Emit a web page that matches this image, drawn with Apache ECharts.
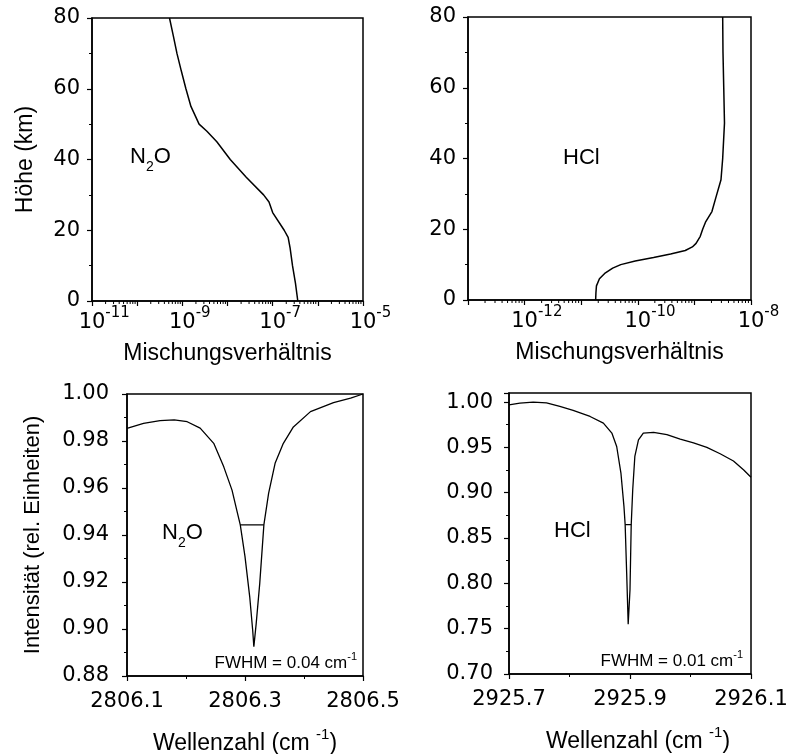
<!DOCTYPE html>
<html>
<head>
<meta charset="utf-8">
<script src="https://cdn.jsdelivr.net/npm/echarts@6/dist/echarts.min.js"></script>
<style>
  html, body { margin: 0; padding: 0; background: #fff; }
  #main { width: 796px; height: 754px; }
</style>
</head>
<body>
<div id="main"></div>
<script>
// Höhenprofile (km) und Mischungsverhältnisse
var n2oHeight = [0, 5, 10, 15, 18, 20, 25, 28, 30, 35, 40, 45, 48, 50, 55, 60, 65, 70, 75, 80];
var n2oMix = [3.6e-7, 3.2e-7, 2.75e-7, 2.43e-7, 2.2e-7, 1.8e-7, 1.0e-7, 8.3e-8, 6.3e-8, 2.6e-8,
    1.15e-8, 5.8e-9, 3.5e-9, 2.35e-9, 1.55e-9, 1.2e-9, 9.5e-10, 7.6e-10, 6.3e-10, 5.2e-10];

var hclHeight = [0, 2, 4, 6, 7.5, 9, 10, 11, 12, 13, 14, 15, 16, 18, 20, 22, 25, 29, 34, 40, 50, 60, 70, 80];
var hclMix = [1.8e-11, 1.82e-11, 1.86e-11, 2.1e-11, 2.6e-11, 3.6e-11, 5.0e-11, 9.0e-11, 1.9e-10, 3.8e-10,
    6.9e-10, 9.2e-10, 1.07e-9, 1.27e-9, 1.4e-9, 1.57e-9, 2.04e-9, 2.4e-9, 2.95e-9, 3.16e-9,
    3.4e-9, 3.3e-9, 3.2e-9, 3.16e-9];

// Spektren
var n2oWave = [2806.100, 2806.128, 2806.156, 2806.180, 2806.202, 2806.224, 2806.247, 2806.264, 2806.278,
    2806.286, 2806.292, 2806.300, 2806.308, 2806.313, 2806.315, 2806.319, 2806.325, 2806.332, 2806.340,
    2806.351, 2806.365, 2806.382, 2806.411, 2806.450, 2806.479, 2806.500];
var n2oInt = [0.9854, 0.9875, 0.9887, 0.9890, 0.9882, 0.9855, 0.9790, 0.9690, 0.9591,
    0.9506, 0.9443, 0.9308, 0.9137, 0.8996, 0.8925, 0.9024, 0.9194, 0.9443, 0.9577,
    0.9705, 0.9790, 0.9860, 0.9925, 0.9963, 0.9982, 1.0000];
var n2oFwhmWave = [2806.292, 2806.332];
var n2oFwhmInt = [0.9443, 0.9443];

var hclWave = [2925.700, 2925.718, 2925.740, 2925.762, 2925.784, 2925.806, 2925.834, 2925.856, 2925.870,
    2925.878, 2925.885, 2925.890, 2925.892, 2925.8945, 2925.897, 2925.900, 2925.902, 2925.9045,
    2925.908, 2925.914, 2925.922, 2925.939, 2925.961, 2925.983, 2926.005, 2926.027, 2926.049,
    2926.071, 2926.088, 2926.100];
var hclInt = [0.9970, 0.9989, 1.0000, 0.9990, 0.9952, 0.9908, 0.9841, 0.9768, 0.9658,
    0.9510, 0.9217, 0.8849, 0.8647, 0.8114, 0.7550, 0.7930, 0.8647, 0.9033,
    0.9400, 0.9584, 0.9658, 0.9665, 0.9640, 0.9590, 0.9550, 0.9500, 0.9430,
    0.9350, 0.9250, 0.9170];
var hclFwhmWave = [2925.892, 2925.902];
var hclFwhmInt = [0.8647, 0.8647];

// Zwischenstriche der log-Achsen (Mantissen)
var logMantissa = [2, 3, 4, 5, 6, 7, 8, 9];

function zip(xs, ys) {
    var out = [];
    for (var i = 0; i < xs.length; i++) out.push([xs[i], ys[i]]);
    return out;
}

function minorLogTicks(eFrom, eTo) {
    var out = [];
    for (var e = eFrom; e < eTo; e++) {
        logMantissa.forEach(function (m) { out.push([m * Math.pow(10, e), 0]); });
    }
    return out;
}

var NUM_FONT = 'DejaVu Sans';
var TXT_FONT = 'Liberation Sans';

var tickLabel = { color: '#000', fontFamily: NUM_FONT, fontSize: 21 };
var axisLine = { show: true, lineStyle: { color: '#000', width: 1.5 } };
var axisTick = { show: true, length: 5, lineStyle: { color: '#000', width: 1.2 } };
var minorTick = { show: true, splitNumber: 2, length: 3, lineStyle: { color: '#000', width: 1 } };
var nameStyle = {
    color: '#000', fontFamily: TXT_FONT, fontSize: 23,
    rich: {
        b: { fontFamily: TXT_FONT, fontSize: 23, lineHeight: 28, verticalAlign: 'bottom', color: '#000' },
        s: { fontFamily: TXT_FONT, fontSize: 15, lineHeight: 15, verticalAlign: 'top', color: '#000' }
    }
};

function logLabel(parity) {
    return function (v) {
        var e = Math.round(Math.log10(v));
        if (Math.abs(e % 2) !== parity) return '';
        return '{p|' + e + '}{b|10}{s|' + e + '}';
    };
}
var logRich = {
    b: { fontFamily: NUM_FONT, fontSize: 21, lineHeight: 27, verticalAlign: 'bottom', color: '#000' },
    s: { fontFamily: NUM_FONT, fontSize: 15, lineHeight: 15, verticalAlign: 'top', color: '#000' },
    p: { fontFamily: NUM_FONT, fontSize: 15, lineHeight: 15, verticalAlign: 'top', color: 'rgba(0,0,0,0)' }
};

function logAxis(idx, min, max, parity, padLeft) {
    return {
        type: 'log', logBase: 10, gridIndex: idx, min: min, max: max,
        axisLine: axisLine, axisTick: axisTick,
        splitLine: { show: false },
        axisLabel: { color: '#000', margin: 5, formatter: logLabel(parity), rich: logRich },
        name: 'Mischungsverhältnis', nameLocation: 'middle', nameGap: 41,
        nameTextStyle: { color: '#000', fontFamily: TXT_FONT, fontSize: 23, padding: [0, 0, 0, padLeft] }
    };
}

function heightAxis(idx, withName) {
    var a = {
        type: 'value', gridIndex: idx, min: 0, max: 80, interval: 20,
        axisLine: axisLine, axisTick: axisTick, minorTick: minorTick,
        splitLine: { show: false },
        axisLabel: Object.assign({ margin: 12 }, tickLabel)
    };
    if (withName) {
        a.name = 'Höhe (km)';
        a.nameLocation = 'middle';
        a.nameGap = 55;
        a.nameTextStyle = { color: '#000', fontFamily: TXT_FONT, fontSize: 23 };
    }
    return a;
}

function waveAxis(idx, min, max, padLeft) {
    return {
        type: 'value', gridIndex: idx, min: min, max: max, interval: 0.2,
        axisLine: axisLine, axisTick: axisTick, minorTick: minorTick,
        splitLine: { show: false },
        axisLabel: Object.assign({ margin: 15, formatter: function (v) { return v.toFixed(1); } }, tickLabel),
        name: '{b|Wellenzahl (cm }{s|-1}{b|)}', nameLocation: 'middle', nameGap: 51,
        nameTextStyle: Object.assign({ padding: [0, 0, 0, padLeft] }, nameStyle)
    };
}

function curve(xi, yi, data, w) {
    return {
        type: 'line', xAxisIndex: xi, yAxisIndex: yi, data: data,
        showSymbol: false, symbol: 'none', lineStyle: { color: '#000', width: w || 1.5 },
        silent: true
    };
}

// kleine Striche unter der log-Achse, über die Achsenskala positioniert
function minorTickSeries(xi, yi, data) {
    return {
        type: 'custom', xAxisIndex: xi, yAxisIndex: yi, data: data, clip: false, silent: true,
        renderItem: function (params, api) {
            var p = api.coord([api.value(0), api.value(1)]);
            return {
                type: 'line',
                shape: { x1: p[0], y1: p[1], x2: p[0], y2: p[1] + 3 },
                style: { stroke: '#000', lineWidth: 1 }
            };
        }
    };
}

var subRich = {
    a: { fontFamily: TXT_FONT, fontSize: 22, lineHeight: 28, verticalAlign: 'top', fill: '#000' },
    b: { fontFamily: TXT_FONT, fontSize: 14, lineHeight: 14, verticalAlign: 'bottom', fill: '#000' }
};
var fwhmRich = {
    a: { fontFamily: TXT_FONT, fontSize: 17, lineHeight: 21, verticalAlign: 'bottom', fill: '#000' },
    b: { fontFamily: TXT_FONT, fontSize: 11, lineHeight: 11, verticalAlign: 'top', fill: '#000' }
};

function grid(l, t, w, h) {
    return {
        left: l, top: t, width: w, height: h, show: true, borderColor: '#000', borderWidth: 1.5,
        containLabel: false, outerBoundsMode: 'none'
    };
}

var chart = echarts.init(document.getElementById('main'));
chart.setOption({
    animation: false,
    backgroundColor: '#fff',
    grid: [
        grid(92, 18, 271, 283),
        grid(468, 17, 283, 283),
        grid(127, 394, 236, 282),
        grid(509, 393, 242, 281)
    ],
    xAxis: [
        logAxis(0, 1e-11, 1e-5, 1, 0),
        logAxis(1, 1e-13, 1e-8, 0, 20),
        waveAxis(2, 2806.1, 2806.5, 0),
        waveAxis(3, 2925.7, 2926.1, 16)
    ],
    yAxis: [
        heightAxis(0, true),
        heightAxis(1, false),
        {
            type: 'value', gridIndex: 2, min: 0.88, max: 1.00, interval: 0.02,
            axisLine: axisLine, axisTick: axisTick, minorTick: minorTick,
            splitLine: { show: false },
            axisLabel: Object.assign({ margin: 18, formatter: function (v) { return v.toFixed(2); } }, tickLabel),
            name: 'Intensität (rel. Einheiten)', nameLocation: 'middle', nameGap: 83,
            nameTextStyle: { color: '#000', fontFamily: TXT_FONT, fontSize: 22 }
        },
        {
            type: 'value', gridIndex: 3, min: 0.70, max: 1.01, interval: 0.05,
            axisLine: axisLine, axisTick: axisTick, minorTick: minorTick,
            splitLine: { show: false },
            axisLabel: Object.assign({
                margin: 16,
                formatter: function (v) { return v > 1.005 ? '' : v.toFixed(2); }
            }, tickLabel)
        }
    ],
    series: [
        curve(0, 0, zip(n2oMix, n2oHeight)),
        curve(1, 1, zip(hclMix, hclHeight)),
        curve(2, 2, zip(n2oWave, n2oInt), 1.3),
        curve(2, 2, zip(n2oFwhmWave, n2oFwhmInt), 1.3),
        curve(3, 3, zip(hclWave, hclInt), 1.3),
        curve(3, 3, zip(hclFwhmWave, hclFwhmInt), 1.3),
        minorTickSeries(0, 0, minorLogTicks(-11, -5)),
        minorTickSeries(1, 1, minorLogTicks(-13, -8))
    ],
    graphic: [
        { type: 'text', left: 130, top: 146, style: { text: '{a|N}{b|2}{a|O}', rich: subRich } },
        { type: 'text', left: 563, top: 147, style: { text: 'HCl', fontFamily: TXT_FONT, fontSize: 22, fill: '#000' } },
        { type: 'text', left: 162, top: 522, style: { text: '{a|N}{b|2}{a|O}', rich: subRich } },
        { type: 'text', left: 554, top: 520, style: { text: 'HCl', fontFamily: TXT_FONT, fontSize: 22, fill: '#000' } },
        { type: 'text', right: 796 - 357, top: 651, style: { text: '{a|FWHM = 0.04 cm}{b|-1}', rich: fwhmRich } },
        { type: 'text', right: 796 - 743, top: 649, style: { text: '{a|FWHM = 0.01 cm}{b|-1}', rich: fwhmRich } }
    ]
});
</script>
</body>
</html>
